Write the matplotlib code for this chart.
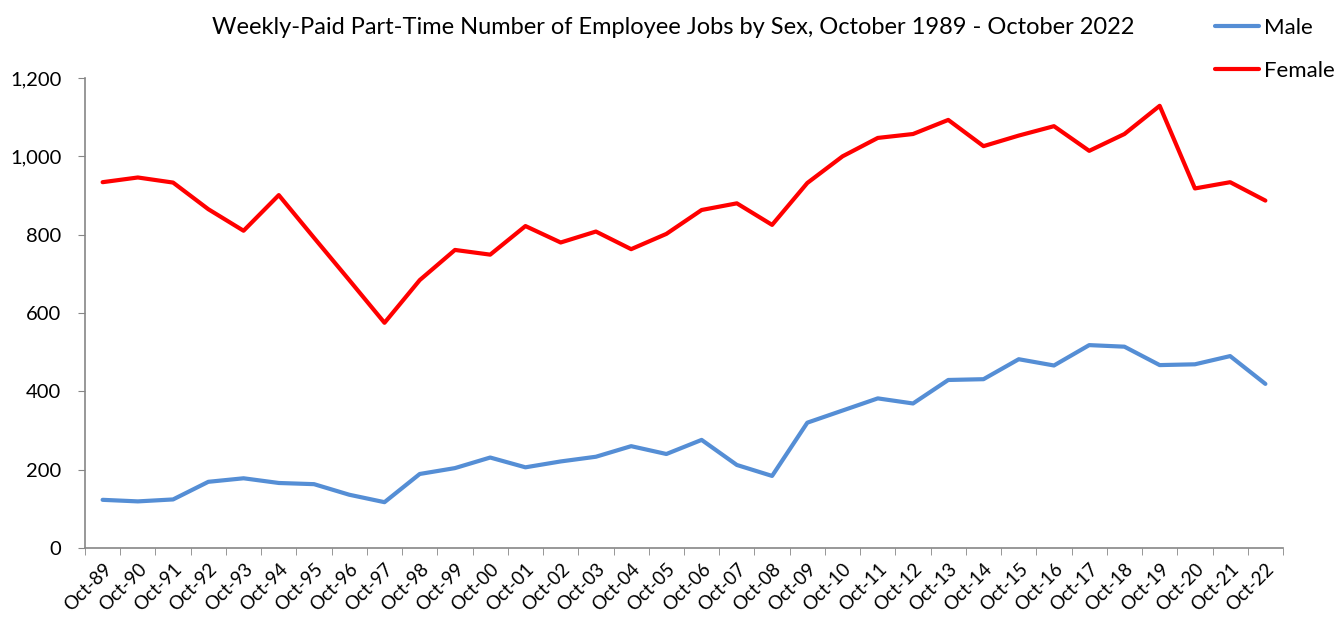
import matplotlib.pyplot as plt
import numpy as np

plt.rcParams['font.family'] = ['Lato', 'DejaVu Sans']

# x categories, Oct-89 .. Oct-22
years = ["89", "90", "91", "92", "93", "94", "95", "96", "97", "98", "99",
         "00", "01", "02", "03", "04", "05", "06", "07", "08", "09", "10",
         "11", "12", "13", "14", "15", "16", "17", "18", "19", "20", "21", "22"]
labels = ["Oct-" + y for y in years]

# values (thousands)
male = [123, 119, 124, 169, 178, 166, 163, 136, 117, 189, 204, 231,
        206, 221, 233, 260, 240, 276, 212, 184, 320, 351, 382, 369,
        429, 431, 482, 466, 518, 514, 467, 469, 490, 419]
female = [934, 946, 933, 865, 810, 901, 792, 684, 575, 684, 761, 749,
          822, 780, 808, 763, 802, 863, 880, 825, 932, 1000, 1047, 1057,
          1093, 1026, 1053, 1077, 1014, 1057, 1129, 918, 934, 887]

fig = plt.figure(figsize=(13.39, 6.18), dpi=100)
ax = fig.add_axes([85/1339, 1-548/618, (1283-85)/1339, (548-78)/618])

x = np.arange(len(labels))
ax.plot(x, male, color="#558ED5", lw=3, label="Male", solid_capstyle="round")
ax.plot(x, female, color="#FF0000", lw=3, label="Female", solid_capstyle="round")

ax.set_xlim(-0.5, len(labels)-0.5)
ax.set_ylim(0, 1200)
ax.set_yticks(np.arange(0, 1201, 200))
ax.set_yticklabels(["{:,}".format(v) for v in range(0, 1201, 200)], fontsize=14.5)

ax.set_xticks(x)
ax.set_xticklabels(labels, rotation=45, ha="right", rotation_mode="anchor", fontsize=13.5)
ax.set_xticks(np.arange(-0.5, len(labels), 1), minor=True)
ax.tick_params(axis="x", which="major", length=0, pad=9)
ax.tick_params(axis="x", which="minor", length=5, color="#868686")
ax.tick_params(axis="y", length=5, color="#868686", pad=12)

for s in ["top", "right"]:
    ax.spines[s].set_visible(False)
for s in ["left", "bottom"]:
    ax.spines[s].set_color("#868686")
    ax.spines[s].set_linewidth(1.2)

fig.text(0.503, 0.955, "Weekly-Paid Part-Time Number of Employee Jobs by Sex, October 1989 - October 2022",
         ha="center", va="center", fontsize=17)

fig.legend(loc="upper right", bbox_to_anchor=(1.012, 1.003), frameon=False, fontsize=16,
           handlelength=2.0, handletextpad=0.22, labelspacing=1.04)

fig.savefig("out.png", dpi=100)
